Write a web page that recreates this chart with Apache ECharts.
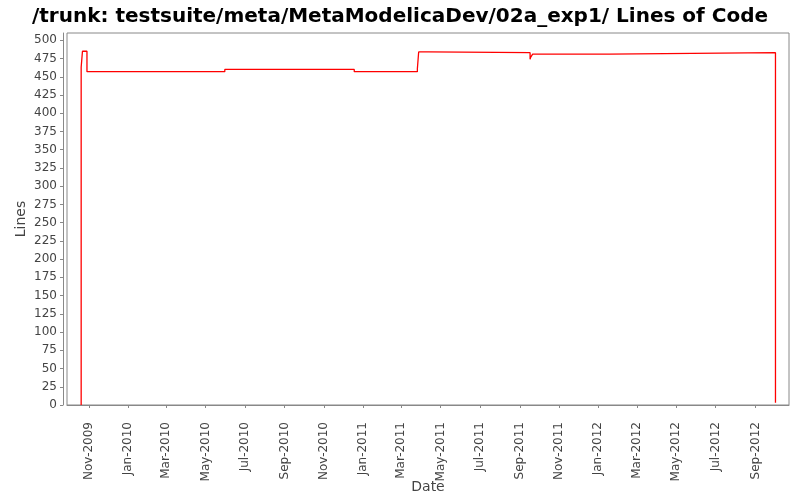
<!DOCTYPE html>
<html>
<head>
<meta charset="utf-8">
<script src="https://cdn.jsdelivr.net/npm/echarts@6/dist/echarts.min.js"></script>
<style>html,body{margin:0;padding:0;background:#fff}#c{width:800px;height:500px}</style>
</head>
<body>
<div id="c"></div>
<script>
var dates = ['2009-10-20','2009-10-20','2009-10-22','2009-10-29','2010-05-31','2010-12-18','2011-03-26','2011-03-28','2011-04-12','2011-09-17','2011-09-17','2011-09-18','2011-09-21','2012-01-18','2012-10-02'];
var lines = [0,463,485,457,460,457,461,484,483,485,474,477,481,483,3];
var tickLabels = ['Nov-2009','Jan-2010','Mar-2010','May-2010','Jul-2010','Sep-2010','Nov-2010','Jan-2011','Mar-2011','May-2011','Jul-2011','Sep-2011','Nov-2011','Jan-2012','Mar-2012','May-2012','Jul-2012','Sep-2012'];
var months = {Jan:0,Feb:1,Mar:2,Apr:3,May:4,Jun:5,Jul:6,Aug:7,Sep:8,Oct:9,Nov:10,Dec:11};
var monNames = ['Jan','Feb','Mar','Apr','May','Jun','Jul','Aug','Sep','Oct','Nov','Dec'];
function ts(s){var p=s.split('-');return Date.UTC(+p[0],+p[1]-1,+p[2]);}
var tickValues = tickLabels.map(function(l){var p=l.split('-');return Date.UTC(+p[1],months[p[0]],1);});
// step expansion: hold each value until the next date, then jump
var data = [];
dates.forEach(function(d,i){
  var t = ts(d);
  if (i > 0) data.push([t, lines[i-1]]);
  data.push([t, lines[i]]);
});
var chart = echarts.init(document.getElementById('c'));
var font = 'DejaVu Sans';
chart.setOption({
  animation:false,
  title:{text:'/trunk: testsuite/meta/MetaModelicaDev/02a_exp1/ Lines of Code',left:'center',top:2,
    textStyle:{fontFamily:font,fontWeight:'bold',fontSize:20,color:'#000'}},
  grid:{left:67,right:11,top:33,bottom:95,outerBoundsMode:'none',containLabel:false,
    show:true,borderColor:'#888',borderWidth:1,backgroundColor:'#fff'},
  xAxis:{type:'value',min:ts('2009-09-28'),max:ts('2012-10-23'),offset:4,
    name:'Date',nameLocation:'middle',nameGap:71,nameMoveOverlap:false,
    nameTextStyle:{fontFamily:font,fontSize:14,color:'#444'},
    axisLine:{show:true,lineStyle:{color:'#888'}},
    axisTick:{show:true,customValues:tickValues,length:3,lineStyle:{color:'#888'}},
    axisLabel:{customValues:tickValues,rotate:90,fontFamily:font,fontSize:12,color:'#444',margin:13,
      formatter:function(v){var d=new Date(v);return monNames[d.getUTCMonth()]+'-'+d.getUTCFullYear();}},
    splitLine:{show:false}},
  yAxis:{type:'value',min:0,max:510,interval:25,offset:4,
    name:'Lines',nameLocation:'middle',nameGap:35,nameMoveOverlap:false,
    nameTextStyle:{fontFamily:font,fontSize:14,color:'#444'},
    axisLine:{show:true,lineStyle:{color:'#888'}},
    axisTick:{show:true,length:3,lineStyle:{color:'#888'}},
    axisLabel:{fontFamily:font,fontSize:12,color:'#444',margin:6,showMaxLabel:false},
    splitLine:{show:false}},
  series:[{type:'line',data:data,showSymbol:false,symbol:'none',sampling:null,
    lineStyle:{color:'#ff0000',width:1.3},itemStyle:{color:'#ff0000'}}]
});
</script>
</body>
</html>
